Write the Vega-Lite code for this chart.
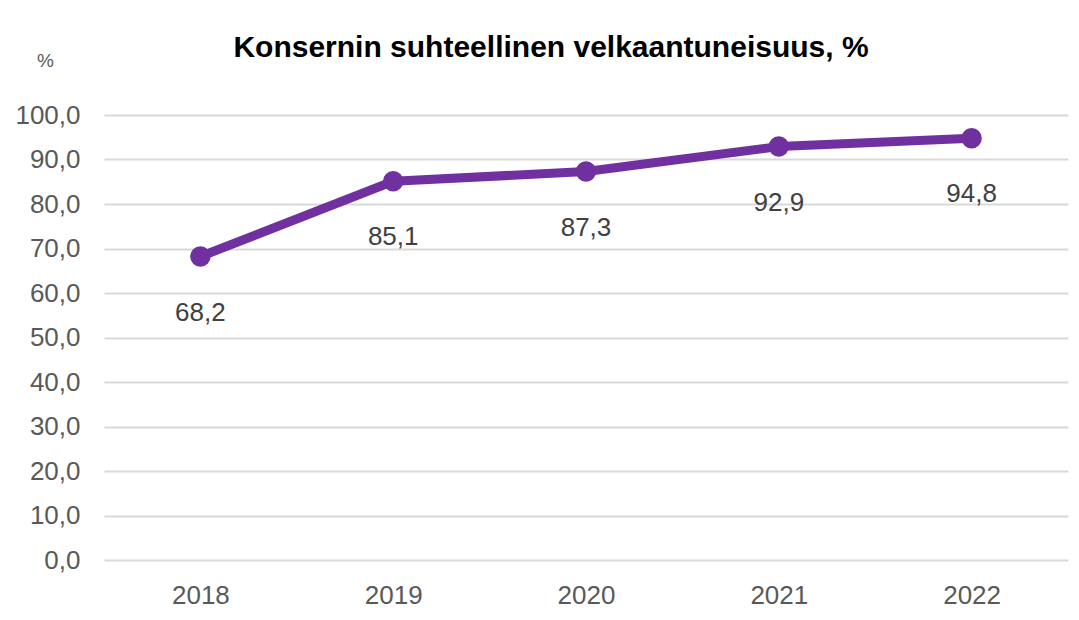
{
  "$schema": "https://vega.github.io/schema/vega-lite/v6.json",
  "autosize": {"type": "none"},
  "width": 964,
  "height": 445,
  "padding": {"left": 104, "top": 115, "right": 11, "bottom": 60},
  "background": "white",
  "config": {
    "locale": {"number": {"decimal": ",", "thousands": " ", "grouping": [3], "currency": ["", " €"]}},
    "view": {"stroke": null},
    "font": "Liberation Sans"
  },
  "title": {
    "text": "Konsernin suhteellinen velkaantuneisuus, %",
    "font": "Liberation Sans Narrow, Liberation Sans",
    "fontSize": 30,
    "fontWeight": "bold",
    "color": "#000000",
    "anchor": "middle",
    "frame": "group",
    "baseline": "alphabetic",
    "dx": -35,
    "dy": 36,
    "offset": 0
  },
  "data": {
    "values": [
      {"year": "2018", "value": 68.2},
      {"year": "2019", "value": 85.1},
      {"year": "2020", "value": 87.3},
      {"year": "2021", "value": 92.9},
      {"year": "2022", "value": 94.8}
    ]
  },
  "encoding": {
    "x": {
      "field": "year",
      "type": "ordinal",
      "scale": {"paddingInner": 0, "paddingOuter": 0},
      "axis": {
        "title": null,
        "labelAngle": 0,
        "labelFontSize": 26,
        "labelColor": "#595959",
        "labelPadding": 22,
        "domain": false,
        "ticks": false,
        "grid": false
      }
    },
    "y": {
      "field": "value",
      "type": "quantitative",
      "scale": {"domain": [0, 100], "nice": false},
      "axis": {
        "title": "%",
        "titleAngle": 0,
        "titleX": -59,
        "titleY": -55,
        "titleAlign": "center",
        "titleBaseline": "middle",
        "titleFontSize": 19,
        "titleFontWeight": "normal",
        "titleColor": "#595959",
        "values": [0, 10, 20, 30, 40, 50, 60, 70, 80, 90, 100],
        "format": ".1f",
        "labelFontSize": 26,
        "labelColor": "#595959",
        "labelPadding": 24,
        "domain": false,
        "ticks": false,
        "gridColor": "#d9d9d9",
        "gridWidth": 2
      }
    }
  },
  "layer": [
    {
      "mark": {"type": "line", "color": "#7030A0", "strokeWidth": 9, "strokeCap": "round", "strokeJoin": "round"}
    },
    {
      "mark": {"type": "point", "filled": true, "color": "#7030A0", "size": 420, "opacity": 1, "shape": "circle"}
    },
    {
      "mark": {"type": "text", "dy": 56, "fontSize": 26, "color": "#404040", "font": "Liberation Sans"},
      "encoding": {"text": {"field": "value", "type": "quantitative", "format": ".1f"}}
    }
  ]
}
